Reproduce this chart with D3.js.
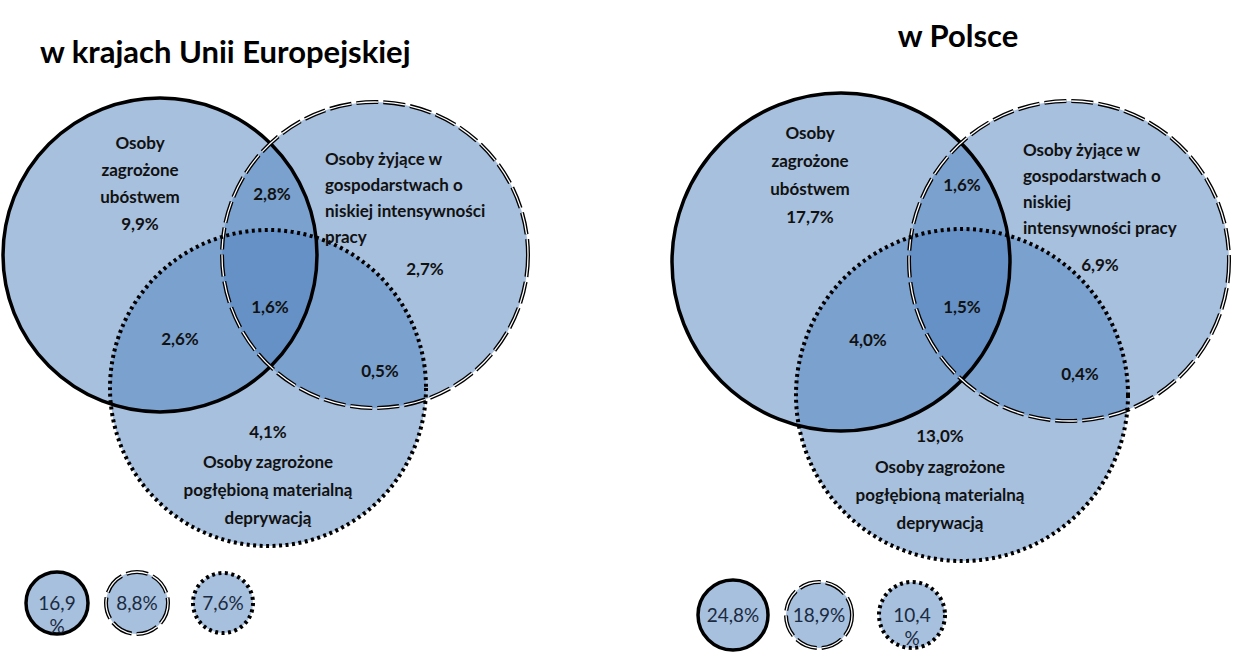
<!DOCTYPE html><html><head><meta charset="utf-8"><script src="https://cdn.jsdelivr.net/npm/d3@7"></script>
<style>body{margin:0;background:#fff}text{font-family:Lato,"Open Sans",sans-serif}</style></head><body><svg width="1235" height="655"></svg>
<script>
const titles=["w krajach Unii Europejskiej","w Polsce"];
const sets=["poverty","lowwork","deprivation"];
const euValues={poverty:"9,9%",lowwork:"2,7%",deprivation:"4,1%",ab:"2,8%",abc:"1,6%",ac:"2,6%",bc:"0,5%"};
const plValues={poverty:"17,7%",lowwork:"6,9%",deprivation:"13,0%",ab:"1,6%",abc:"1,5%",ac:"4,0%",bc:"0,4%"};
const euTotals=["16,9 %","8,8%","7,6%"];
const plTotals=["24,8%","18,9%","10,4 %"];
const setLabels={poverty:["Osoby","zagrożone","ubóstwem"],lowwork:["Osoby żyjące w","gospodarstwach o","niskiej intensywności","pracy"],deprivation:["Osoby zagrożone","pogłębioną materialną","deprywacją"]};
const plLowwork=["Osoby żyjące w","gospodarstwach o","niskiej","intensywności pracy"];

const svg=d3.select("svg");
const styles=[
 {w:3.5,dash:null},
 {w:4,dash:"22,5",inner:true},
 {w:4,dash:"3,3.5"}
];
function circles(g,cs){
 g.selectAll("circle.f").data(cs).join("circle").attr("cx",d=>d[0]).attr("cy",d=>d[1]).attr("r",d=>d[2])
  .attr("fill","rgb(79,129,189)").attr("fill-opacity",0.5);
 cs.forEach((d,i)=>{
  const s=styles[i];
  g.append("circle").attr("cx",d[0]).attr("cy",d[1]).attr("r",d[2]).attr("fill","none").attr("stroke","#000")
   .attr("stroke-width",s.w).attr("stroke-dasharray",s.dash);
  if(s.inner)g.append("circle").attr("cx",d[0]).attr("cy",d[1]).attr("r",d[2]).attr("fill","none").attr("stroke","#fff")
   .attr("stroke-width",1.3).attr("stroke-dasharray",s.dash);
 });
}
function txt(lines,x,y,dy,anchor,size,weight,color){
 const t=svg.append("text").attr("text-anchor",anchor||"middle").attr("font-size",size||17).attr("font-weight",weight||"bold").attr("fill",color||"#111");
 lines.forEach((l,i)=>t.append("tspan").attr("x",x).attr("y",y+i*dy).text(l));
}
function small(vals,pos){
 const g=svg.append("g");
 vals.forEach((v,i)=>{
  const p=pos[i],s=styles[i];
  g.append("circle").attr("cx",p[0]).attr("cy",p[1]).attr("r",p[2]).attr("fill","#a7c0de");
  g.append("circle").attr("cx",p[0]).attr("cy",p[1]).attr("r",p[2]).attr("fill","none").attr("stroke","#000").attr("stroke-width",s.w).attr("stroke-dasharray",s.dash);
  if(s.inner)g.append("circle").attr("cx",p[0]).attr("cy",p[1]).attr("r",p[2]).attr("fill","none").attr("stroke","#fff").attr("stroke-width",1.3).attr("stroke-dasharray",s.dash);
  const parts=v.split(" ");
  txt(parts,p[0],p[1]+7,23,"middle",19,"normal","#1a2a40");
 });
}
// EU
circles(svg.append("g"),[[160,255,157],[375,255,153],[268,388,158]]);
txt([titles[0]],40,63,0,"start",31,"bold","#000");
txt(setLabels.poverty.concat([euValues.poverty]),140,149,27);
txt(setLabels.lowwork,325,165,26,"start");
txt([euValues.lowwork],425,275,0);
txt([euValues.ab],272,200,0);
txt([euValues.abc],270,313,0);
txt([euValues.ac],180,345,0);
txt([euValues.bc],380,377,0);
txt([euValues.deprivation],268,438,0);
txt(setLabels.deprivation,268,468,28);
small(euTotals,[[57,603,31],[137,603,31],[223,603,30]]);
// PL
circles(svg.append("g"),[[841,262,169],[1069,261,160],[962,395,166]]);
txt([titles[1]],958,47,0,"middle",31,"bold","#000");
txt(setLabels.poverty.concat([plValues.poverty]),810,139,28);
txt(plLowwork,1023,156,26,"start");
txt([plValues.lowwork],1100,271,0);
txt([plValues.ab],962,191,0);
txt([plValues.abc],962,313,0);
txt([plValues.ac],868,346,0);
txt([plValues.bc],1080,380,0);
txt([plValues.deprivation],940,442,0);
txt(setLabels.deprivation,940,473,28);
small(plTotals,[[733,615,35],[819,615,33],[912,615,33]]);
</script></body></html>
